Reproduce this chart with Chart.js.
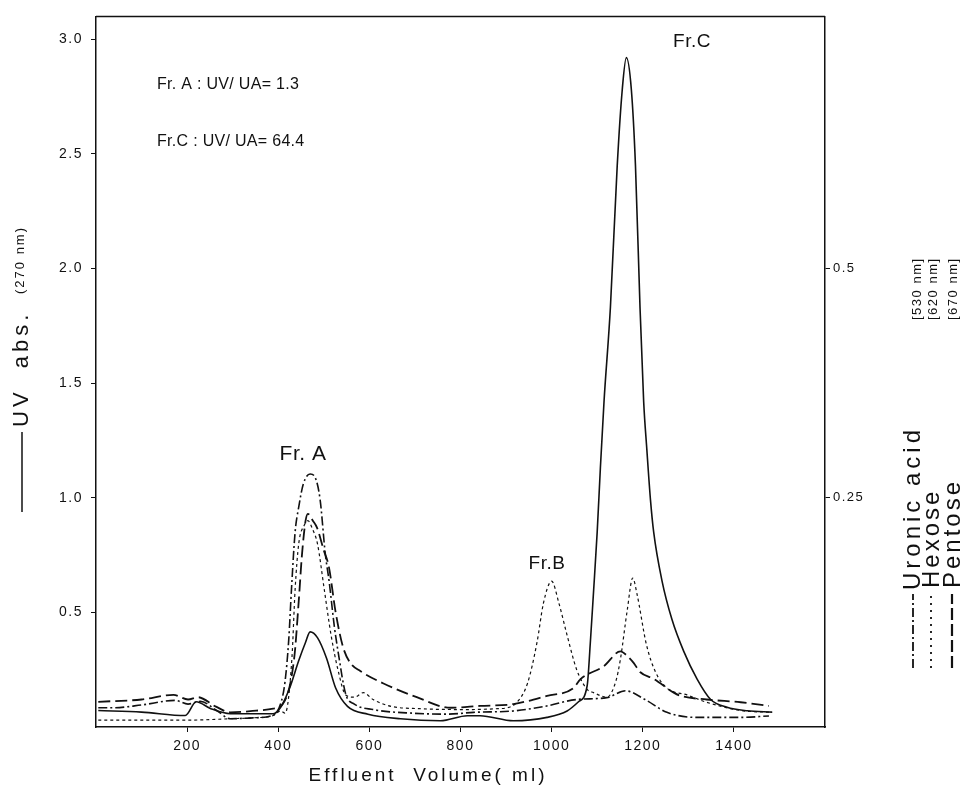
<!DOCTYPE html>
<html><head><meta charset="utf-8">
<script src="https://cdn.jsdelivr.net/npm/chart.js@4.4.1/dist/chart.umd.min.js"></script>
<style>html,body{margin:0;padding:0;background:#fff;}canvas{display:block;}</style>
</head><body>
<canvas id="c" width="962" height="791"></canvas>
<script>
// ---- data (effluent volume in ml) ----
const xTicks = [200, 400, 600, 800, 1000, 1200, 1400];
const yTicksLeft = [0.5, 1.0, 1.5, 2.0, 2.5, 3.0];
const yTicksRight = [0.25, 0.5];

// UV absorbance (270 nm), left axis
const uvVolume = [5,100,196,220,252,295,389,405,425,445,460,470,486,506,526,552,597,668,756,815,843,916,990,1034,1059,1078,1085,1092,1100,1107,1115,1129,1144,1155,1164,1175,1184,1194,1202,1209,1217,1224,1242,1264,1290,1319,1349,1385,1429,1484];
const uvAbs    = [0.072,0.065,0.05,0.11,0.08,0.058,0.058,0.085,0.17,0.29,0.37,0.415,0.39,0.30,0.17,0.09,0.056,0.036,0.027,0.049,0.049,0.027,0.042,0.07,0.11,0.18,0.37,0.59,0.85,1.13,1.42,1.83,2.45,2.78,2.92,2.78,2.45,1.83,1.42,1.21,0.99,0.85,0.64,0.47,0.33,0.21,0.12,0.086,0.071,0.065];

// Uronic acid (530 nm), right axis
const uronicVolume = [5,39,100,174,202,229,265,295,344,386,405,415,423,429,437,445,455,470,482,492,503,512,523,532,548,567,608,697,770,829,916,990,1055,1121,1162,1205,1253,1319,1415,1477];
const uronicAbs    = [0.021,0.021,0.024,0.029,0.025,0.028,0.018,0.009,0.010,0.0125,0.025,0.05,0.095,0.15,0.2125,0.24,0.265,0.276,0.271,0.2475,0.19,0.1575,0.11,0.08,0.036,0.025,0.019,0.015,0.014,0.016,0.0175,0.023,0.03,0.032,0.0395,0.03,0.016,0.0105,0.0105,0.012];

// Hexose (620 nm), right axis
const hexoseVolume = [5,100,202,295,344,389,405,415,430,437,445,457,465,476,486,501,516,531,548,567,587,608,648,709,811,882,903,924,947,968,982,1000,1016,1034,1055,1078,1092,1121,1141,1151,1166,1178,1187,1208,1228,1253,1297,1340,1415,1484];
const hexoseAbs    = [0.0075,0.0075,0.0075,0.009,0.01,0.0125,0.0175,0.015,0.075,0.15,0.2,0.22,0.225,0.215,0.2,0.15,0.1,0.0625,0.035,0.0325,0.0375,0.03,0.0225,0.02,0.019,0.02,0.021,0.027,0.0475,0.0925,0.135,0.159,0.135,0.1,0.0625,0.041,0.0375,0.0325,0.05,0.074,0.1275,0.1625,0.146,0.09,0.06,0.0425,0.035,0.027,0.018,0.016];

// Pentose (670 nm), right axis
const pentoseVolume = [5,100,170,202,224,262,295,344,389,410,435,445,452,460,465,476,485,500,511,526,542,558,580,631,704,778,843,916,990,1048,1063,1115,1151,1166,1180,1194,1224,1268,1283,1340,1415,1477];
const pentoseAbs    = [0.0275,0.03,0.035,0.03,0.0325,0.0225,0.016,0.0175,0.02,0.025,0.075,0.1375,0.1875,0.225,0.2325,0.225,0.2175,0.1925,0.175,0.125,0.0875,0.07,0.061,0.0475,0.0325,0.021,0.023,0.025,0.034,0.0425,0.052,0.0665,0.0825,0.0775,0.07,0.06,0.0525,0.0375,0.034,0.03,0.027,0.023];

const pts = (xs, ys) => xs.map((x, i) => ({x: x, y: ys[i]}));

const INK = '#111';
const FONT = '"Liberation Sans", Arial, sans-serif';

const spacingPlugin = {
  id: 'spacing',
  beforeDraw(chart) { chart.ctx.letterSpacing = '1.5px'; },
  beforeDatasetsDraw(chart) { chart.ctx.letterSpacing = '0px'; }
};

const textPlugin = {
  id: 'texts',
  afterDraw(chart) {
    const ctx = chart.ctx;
    const a = chart.chartArea;
    ctx.save();
    ctx.strokeStyle = INK; ctx.lineWidth = 1.5;
    ctx.beginPath(); ctx.moveTo(a.left, a.top); ctx.lineTo(a.right, a.top); ctx.stroke();
    ctx.fillStyle = INK;
    ctx.textBaseline = 'middle';
    function txt(s, x, y, size, align, ls) {
      ctx.font = size + 'px ' + FONT;
      ctx.letterSpacing = (ls || 0) + 'px';
      ctx.textAlign = align || 'left';
      ctx.fillText(s, x, y);
    }
    function vtxt(s, x, y, size, align, ls) {
      ctx.save(); ctx.translate(x, y); ctx.rotate(-Math.PI / 2);
      txt(s, 0, 0, size, align, ls);
      ctx.restore();
    }
    function vline(x, y1, y2, dash, w) {
      ctx.save(); ctx.setLineDash(dash); ctx.lineWidth = w; ctx.strokeStyle = INK;
      ctx.beginPath(); ctx.moveTo(x, y1); ctx.lineTo(x, y2); ctx.stroke(); ctx.restore();
    }
    // annotations
    txt('Fr. A : UV/ UA= 1.3', 157, 85, 16, 'left', 0.3);
    txt('Fr.C : UV/ UA= 64.4', 157, 142, 16, 'left', 0.3);
    txt('Fr. A', 303, 454, 21, 'center', 0.5);
    txt('Fr.B', 547, 564, 19, 'center', 0.5);
    txt('Fr.C', 692, 42, 19, 'center', 0.5);
    // x title
    txt('Effluent  Volume( ml)', 428, 776, 19, 'center', 3);
    // y title (left)
    vline(22, 512, 432, [], 1.5);
    vtxt('UV  abs.', 22, 427, 22, 'left', 4);
    vtxt('(270 nm)', 20, 294, 13, 'left', 2);
    // right legend
    vline(913, 668, 594, [9, 3, 2, 3], 1.8);
    vtxt('Uronic acid', 913, 590, 24, 'left', 4);
    vtxt('[530 nm]', 917, 320, 13, 'left', 1.5);
    vline(931, 668, 594, [2, 5], 1.8);
    vtxt('Hexose', 932, 588, 24, 'left', 3);
    vtxt('[620 nm]', 933, 320, 13, 'left', 1.5);
    vline(952, 668, 594, [12, 4], 2.2);
    vtxt('Pentose', 953, 588, 24, 'left', 3);
    vtxt('[670 nm]', 953, 320, 13, 'left', 1.5);
    ctx.restore();
  }
};

const common = {fill: false, pointRadius: 0, tension: 0.4, cubicInterpolationMode: 'monotone', borderColor: INK};

new Chart(document.getElementById('c'), {
  type: 'line',
  data: {
    datasets: [
      Object.assign({label: 'UV abs. (270 nm)', data: pts(uvVolume, uvAbs), yAxisID: 'y', borderWidth: 1.6}, common),
      Object.assign({label: 'Uronic acid [530 nm]', data: pts(uronicVolume, uronicAbs), yAxisID: 'y2', borderWidth: 1.6, borderDash: [9, 3, 2, 3]}, common),
      Object.assign({label: 'Hexose [620 nm]', data: pts(hexoseVolume, hexoseAbs), yAxisID: 'y2', borderWidth: 1.2, borderDash: [3, 3]}, common),
      Object.assign({label: 'Pentose [670 nm]', data: pts(pentoseVolume, pentoseAbs), yAxisID: 'y2', borderWidth: 1.8, borderDash: [12, 5]}, common)
    ]
  },
  options: {
    responsive: false,
    animation: false,
    devicePixelRatio: 1,
    layout: {padding: {top: 9, left: 0, right: 0, bottom: 0}},
    plugins: {legend: {display: false}, tooltip: {enabled: false}, title: {display: false}},
    scales: {
      x: {
        type: 'linear', min: 0, max: 1600,
        afterBuildTicks: s => { s.ticks = xTicks.map(v => ({value: v})); },
        afterFit: s => { s.height = 64; },
        ticks: {color: INK, font: {size: 14, family: FONT}, padding: 6, maxRotation: 0, callback: v => String(v)},
        grid: {drawOnChartArea: false, drawTicks: true, tickLength: 5, color: INK},
        border: {display: true, color: INK, width: 1.5}
      },
      y: {
        type: 'linear', position: 'left', min: 0, max: 3.1,
        afterBuildTicks: s => { s.ticks = yTicksLeft.map(v => ({value: v})); },
        afterFit: s => { s.width = 96; },
        ticks: {color: INK, font: {size: 14, family: FONT}, padding: 8, callback: v => v.toFixed(1)},
        grid: {drawOnChartArea: false, drawTicks: true, tickLength: 5, color: INK},
        border: {display: true, color: INK, width: 1.5}
      },
      y2: {
        type: 'linear', position: 'right', min: 0, max: 0.775,
        afterBuildTicks: s => { s.ticks = yTicksRight.map(v => ({value: v})); },
        afterFit: s => { s.width = 137; },
        ticks: {color: INK, font: {size: 13, family: FONT}, padding: 3, callback: v => String(v)},
        grid: {drawOnChartArea: false, drawTicks: true, tickLength: 5, color: INK},
        border: {display: true, color: INK, width: 1.5}
      }
    }
  },
  plugins: [spacingPlugin, textPlugin]
});
</script>
</body></html>
